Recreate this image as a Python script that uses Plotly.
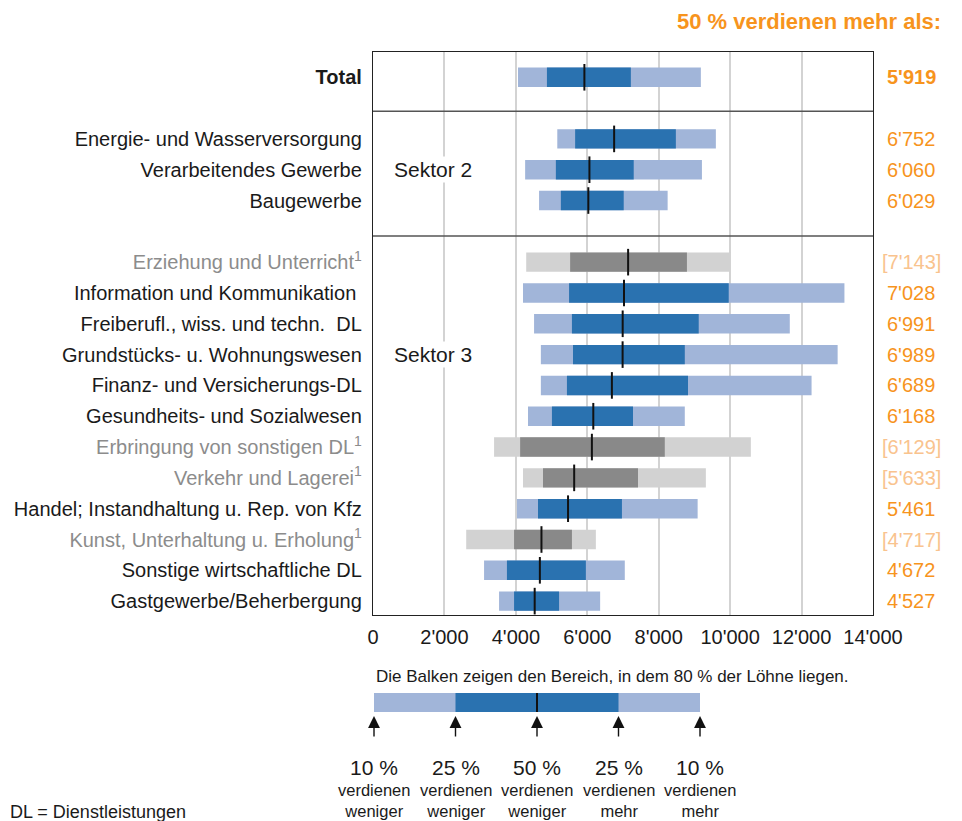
import plotly.graph_objects as go

# Monatlicher Bruttolohn nach Branche (Perzentile)
categories = [
    "Total",
    "Energie- und Wasserversorgung",
    "Verarbeitendes Gewerbe",
    "Baugewerbe",
    "Erziehung und Unterricht",
    "Information und Kommunikation&nbsp;",
    "Freiberufl., wiss. und techn. &nbsp;DL",
    "Grundstücks- u. Wohnungswesen",
    "Finanz- und Versicherungs-DL",
    "Gesundheits- und Sozialwesen",
    "Erbringung von sonstigen DL",
    "Verkehr und Lagerei",
    "Handel; Instandhaltung u. Rep. von Kfz",
    "Kunst, Unterhaltung u. Erholung",
    "Sonstige wirtschaftliche DL",
    "Gastgewerbe/Beherbergung",
]
footnote = [False, False, False, False, True, False, False, False, False, False,
            True, True, False, True, False, False]
p10 = [4060, 5160, 4260, 4650, 4290, 4200, 4510, 4700, 4700, 4340, 3390, 4200, 4030, 2610, 3110, 3530]
p25 = [4870, 5660, 5120, 5260, 5520, 5490, 5570, 5600, 5430, 5010, 4120, 4760, 4620, 3950, 3750, 3950]
median = [5919, 6752, 6060, 6029, 7143, 7028, 6991, 6989, 6689, 6168, 6129, 5633, 5461, 4717, 4672, 4527]
p75 = [7220, 8480, 7300, 7020, 8790, 9960, 9120, 8730, 8820, 7280, 8170, 7420, 6970, 5570, 5960, 5210]
p90 = [9180, 9600, 9210, 8250, 10000, 13200, 11670, 13010, 12280, 8730, 10580, 9320, 9090, 6240, 7050, 6360]
rows = [17, 15, 14, 13, 11, 10, 9, 8, 7, 6, 5, 4, 3, 2, 1, 0]

# Legende (schematischer Balken)
key_steps = [0, 1, 2, 3, 4]
key_pct = ["10 %", "25 %", "50 %", "25 %", "10 %"]
key_text = ["verdienen<br>weniger", "verdienen<br>weniger", "verdienen<br>weniger",
            "verdienen<br>mehr", "verdienen<br>mehr"]

# Seite hat 8px Rand -> Figur entsprechend kleiner, Koordinaten verschoben
OFF = 8
W, H = 962 - OFF, 821 - OFF
L, T = 373 - OFF, 52 - OFF
R = W - (873 - OFF)

def py(y):
    return (H - (y - OFF)) / (H - T)

def px(x):
    return (x - OFF - L) / (W - L - R)

LIGHT_BLUE = "#A1B5D9"
DARK_BLUE = "#2A72B0"
LIGHT_GREY = "#D2D2D2"
DARK_GREY = "#898989"
ORANGE = "#F7941D"
ORANGE_LIGHT = "#F9C38E"
TXT = "#1a1a1a"
FONT = "Liberation Sans"

light = [LIGHT_GREY if f else LIGHT_BLUE for f in footnote]
dark = [DARK_GREY if f else DARK_BLUE for f in footnote]

def fmt(v):
    return f"{v:,}".replace(",", "'")

labels = []
for c, f in zip(categories, footnote):
    if c == "Total":
        labels.append("<b>Total</b>")
    elif f:
        labels.append(f"<span style='color:#8C8C8C'>{c}<sup>1</sup></span>")
    else:
        labels.append(c)

fig = go.Figure()
fig.add_trace(go.Bar(y=rows, x=[b - a for a, b in zip(p10, p90)], base=p10, orientation="h",
                     marker=dict(color=light, line_width=0), width=0.63))
fig.add_trace(go.Bar(y=rows, x=[b - a for a, b in zip(p25, p75)], base=p25, orientation="h",
                     marker=dict(color=dark, line_width=0), width=0.63))
fig.add_trace(go.Scatter(y=rows, x=median, mode="markers",
                         marker=dict(symbol="line-ns", size=19, line=dict(width=2, color="#111"))))

# Legendenbalken auf eigenen, unsichtbaren Achsen
fig.add_trace(go.Bar(y=[0], x=[key_steps[4] - key_steps[0]], base=[key_steps[0]], orientation="h",
                     marker=dict(color=LIGHT_BLUE, line_width=0), width=1, xaxis="x2", yaxis="y2"))
fig.add_trace(go.Bar(y=[0], x=[key_steps[3] - key_steps[1]], base=[key_steps[1]], orientation="h",
                     marker=dict(color=DARK_BLUE, line_width=0), width=1, xaxis="x2", yaxis="y2"))
fig.add_trace(go.Scatter(y=[0], x=[key_steps[2]], mode="markers", xaxis="x2", yaxis="y2",
                         marker=dict(symbol="line-ns", size=18, line=dict(width=2, color="#111"))))

annotations = []
for r, m, f, c in zip(rows, median, footnote, categories):
    txt = fmt(m)
    if f:
        txt = f"[{txt}]"
    if c == "Total":
        txt = f"<b>{txt}</b>"
    annotations.append(dict(x=px(911), xref="paper", y=r, yref="y", text=txt, showarrow=False,
                            xanchor="center", yanchor="middle",
                            font=dict(size=20, color=ORANGE_LIGHT if f else ORANGE)))

annotations += [
    dict(x=px(943), xref="paper", y=py(22), yref="paper", xanchor="right", yanchor="middle",
         showarrow=False, text="<b>50 % verdienen mehr als:</b>", font=dict(size=22, color=ORANGE)),
    dict(x=px(392), xref="paper", y=14, yref="y", xanchor="left", yanchor="middle", showarrow=False,
         text="Sektor 2", font=dict(size=21, color=TXT), bgcolor="white"),
    dict(x=px(392), xref="paper", y=8, yref="y", xanchor="left", yanchor="middle", showarrow=False,
         text="Sektor 3", font=dict(size=21, color=TXT), bgcolor="white"),
    dict(x=px(374), xref="paper", y=py(676), yref="paper", xanchor="left", yanchor="middle",
         showarrow=False, text="Die Balken zeigen den Bereich, in dem 80 % der Löhne liegen.",
         font=dict(size=17, color=TXT)),
    dict(x=px(8), xref="paper", y=py(812), yref="paper", xanchor="left", yanchor="middle",
         showarrow=False, text="DL = Dienstleistungen", font=dict(size=18, color=TXT)),
]
for k, pct, t in zip(key_steps, key_pct, key_text):
    annotations.append(dict(x=k, xref="x2", y=py(716), yref="paper", text="", showarrow=True,
                            ax=0, ay=22, arrowhead=2, arrowsize=1.7, arrowwidth=1.4, arrowcolor="#111"))
    annotations.append(dict(x=k, xref="x2", y=py(767), yref="paper", text=pct, showarrow=False,
                            xanchor="center", yanchor="middle", font=dict(size=21, color=TXT)))
    annotations.append(dict(x=k, xref="x2", y=py(800), yref="paper", text=t, showarrow=False,
                            xanchor="center", yanchor="middle", font=dict(size=16.5, color=TXT)))

shapes = []
for sep in [15.9, 11.85]:
    shapes.append(dict(type="line", xref="paper", x0=0, x1=1, yref="y", y0=sep, y1=sep,
                       line=dict(color="#555", width=1.5)))

fig.update_layout(
    width=W, height=H,
    margin=dict(l=L, r=R, t=T, b=0),
    paper_bgcolor="white", plot_bgcolor="white",
    barmode="overlay", showlegend=False,
    separators=".'",
    font=dict(family=FONT, size=20, color=TXT),
    xaxis=dict(range=[0, 14000], dtick=2000, tickformat=",", showgrid=True, gridcolor="#D3D3D3",
               gridwidth=1.5, showline=True, mirror=True, linecolor="#222", linewidth=1.3,
               zeroline=False, ticks="", ticklabelstandoff=4, tickfont=dict(size=20), anchor="y"),
    yaxis=dict(range=[-0.45, 17.82], domain=[py(615), 1], tickvals=rows, ticktext=labels,
               showgrid=False, showline=True, mirror=True, linecolor="#222", linewidth=1.3,
               zeroline=False, ticks="", ticklabelstandoff=6, tickfont=dict(size=20), anchor="x"),
    xaxis2=dict(domain=[0, 1], range=[-1 / 81.5, 499 / 81.5], visible=False, anchor="y2"),
    yaxis2=dict(domain=[py(712), py(693)], range=[-0.5, 0.5], visible=False, anchor="x2"),
    annotations=annotations,
    shapes=shapes,
)

fig.write_html("out.html")
